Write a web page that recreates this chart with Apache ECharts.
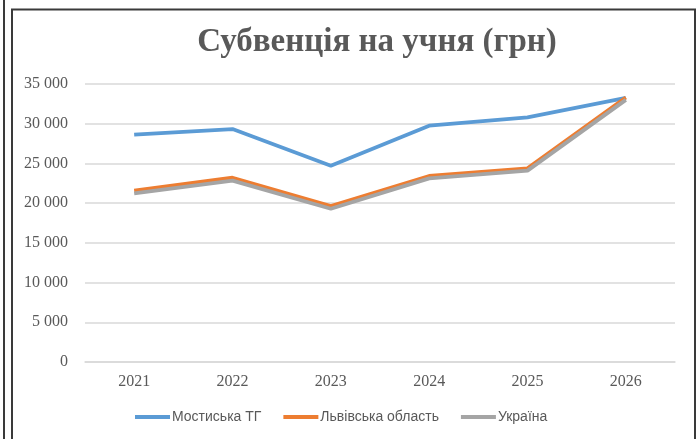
<!DOCTYPE html>
<html>
<head>
<meta charset="utf-8">
<script src="https://cdn.jsdelivr.net/npm/echarts@6/dist/echarts.min.js"></script>
<style>
    html, body { margin: 0; padding: 0; background: #fff; }
    #chart { width: 698px; height: 439px; }
</style>
</head>
<body>
<div id="chart"></div>
<script>
const years = ['2021', '2022', '2023', '2024', '2025', '2026']
const mostyskaTG = [28620, 29330, 24710, 29750, 30800, 33240]
const lvivOblast = [21570, 23200, 19640, 23420, 24380, 33300]
const ukraine = [21240, 22830, 19300, 23120, 24090, 33000]

const serif = '"Liberation Serif", "DejaVu Serif", serif'
const textGray = '#595959'

const chart = echarts.init(document.getElementById('chart'))

const mkSeries = (name, data, color) => ({
    name: name,
    type: 'line',
    data: data,
    symbol: 'none',
    lineStyle: { width: 3.8, color: color },
    itemStyle: { color: color },
})

chart.setOption({
    animation: false,
    title: {
        text: 'Субвенція на учня (грн)',
        left: 372,
        top: 21,
        textAlign: 'center',
        textStyle: {
            fontFamily: serif,
            fontWeight: 'bold',
            fontSize: 33,
            color: textGray,
        },
    },
    // outer frames
    graphic: [
        {
            type: 'line',
            shape: { x1: 4, y1: 0, x2: 4, y2: 439 },
            style: { stroke: '#3a3a3a', lineWidth: 2 },
            silent: true,
        },
        {
            type: 'rect',
            shape: { x: 12, y: 9.5, width: 683, height: 440 },
            style: { fill: 'none', stroke: '#3a3a3a', lineWidth: 2 },
            silent: true,
        },
    ],
    legend: {
        bottom: 10,
        left: 130,
        itemWidth: 35,
        itemHeight: 4,
        itemGap: 22,
        icon: 'rect',
        textStyle: {
            fontFamily: '"Liberation Sans", Arial, sans-serif',
            fontSize: 14,
            color: textGray,
            padding: [0, 0, 0, -3],
        },
    },
    grid: {
        left: 85,
        right: 23,
        top: 84,
        bottom: 77,
    },
    xAxis: {
        type: 'category',
        data: years,
        boundaryGap: true,
        axisLine: { lineStyle: { color: '#d9d9d9', width: 1.5 } },
        axisTick: { show: false },
        axisLabel: {
            fontFamily: serif,
            fontSize: 16,
            color: textGray,
            margin: 12,
        },
    },
    yAxis: {
        type: 'value',
        min: 0,
        max: 35000,
        interval: 5000,
        axisLine: { show: false },
        axisTick: { show: false },
        splitLine: { lineStyle: { color: '#d9d9d9', width: 1.5 } },
        axisLabel: {
            fontFamily: serif,
            fontSize: 16,
            color: textGray,
            margin: 17,
            formatter: v => v === 0 ? '0' : String(v).replace(/(\d)(?=(\d{3})+$)/g, '$1 '),
        },
    },
    series: [
        mkSeries('Мостиська ТГ', mostyskaTG, '#5B9BD5'),
        mkSeries('Львівська область', lvivOblast, '#ED7D31'),
        mkSeries('Україна', ukraine, '#A5A5A5'),
    ],
})
</script>
</body>
</html>
